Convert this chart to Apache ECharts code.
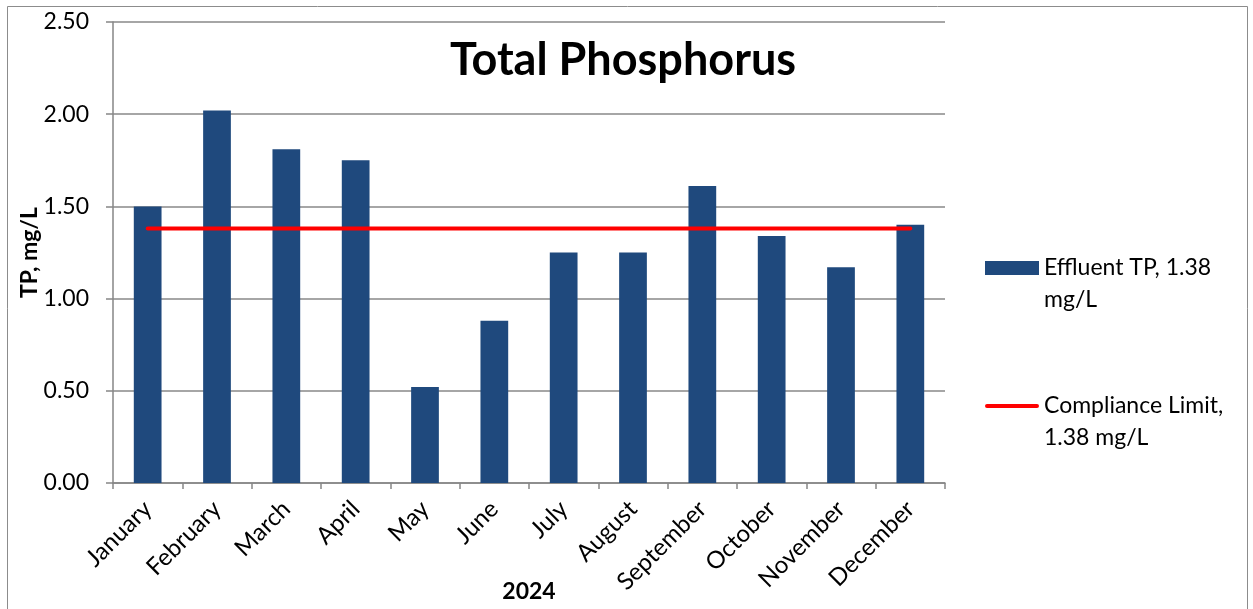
<!DOCTYPE html>
<html>
<head>
<meta charset="utf-8">
<script src="https://cdn.jsdelivr.net/npm/echarts@6/dist/echarts.min.js"></script>
<style>
  html, body { margin: 0; padding: 0; background: #fff; }
  #chart { width: 1253px; height: 609px; }
</style>
</head>
<body>
<div id="chart"></div>
<script>
// Total Phosphorus 2024 - monthly effluent vs compliance limit

const months = ['January', 'February', 'March', 'April', 'May', 'June',
    'July', 'August', 'September', 'October', 'November', 'December'];
const effluentTP = [1.50, 2.02, 1.81, 1.75, 0.52, 0.88, 1.25, 1.25, 1.61, 1.34, 1.17, 1.40];
const complianceLimit = [1.38, 1.38, 1.38, 1.38, 1.38, 1.38, 1.38, 1.38, 1.38, 1.38, 1.38, 1.38];
const yTicks = [0, 0.5, 1.0, 1.5, 2.0, 2.5];

const seriesNames = ['Effluent TP, 1.38\nmg/L', 'Compliance Limit,\n1.38 mg/L'];
const font = 'Lato, "Open Sans", sans-serif';

// legend icons: the mark sits on the first text line, tiny dots stretch the box to the item height
const barIcon = 'path://M0,0h0.01v0.01h-0.01Z M0,9H54V23H0Z M53.99,63.99h0.01v0.01h-0.01Z';
const lineIcon = 'path://M0,0h0.01v0.01h-0.01Z M2,14H52A2,2 0 0 1 52,18H2A2,2 0 0 1 2,14Z M53.99,63.99h0.01v0.01h-0.01Z';

let chart = echarts.init(document.getElementById('chart'));

let option = {
    backgroundColor: '#fff',
    animation: false,
    textStyle: { fontFamily: font, color: '#000' },
    graphic: [
        {
            type: 'rect',
            shape: { x: 7.5, y: 6.5, width: 1240, height: 640 },
            style: { fill: 'none', stroke: '#8c8c8c', lineWidth: 1 },
            silent: true
        }
    ],
    title: {
        text: 'Total Phosphorus',
        left: 618,
        top: 33,
        textAlign: 'center',
        textStyle: { fontFamily: font, fontSize: 45, fontWeight: 'bold', color: '#000' }
    },
    legend: {
        orient: 'vertical',
        left: 980,
        top: 247,
        itemGap: 74,
        itemWidth: 54,
        itemHeight: 64,
        textStyle: { fontFamily: font, fontSize: 23, color: '#000', lineHeight: 32 },
        data: [
            { name: seriesNames[0], icon: barIcon },
            { name: seriesNames[1], icon: lineIcon }
        ]
    },
    grid: { left: 113, right: 308, top: 22, bottom: 126, containLabel: false, outerBoundsMode: 'none' },
    xAxis: {
        type: 'category',
        data: months,
        name: '2024',
        nameLocation: 'middle',
        nameGap: 97,
        nameMoveOverlap: false,
        nameTextStyle: { fontFamily: font, fontSize: 23, fontWeight: 'bold', color: '#000' },
        axisLine: { lineStyle: { color: '#868686', width: 1.5 } },
        axisTick: { show: true, length: 6, lineStyle: { color: '#868686', width: 1.5 } },
        axisLabel: { rotate: 45, fontSize: 24, color: '#000', margin: 22, fontFamily: font }
    },
    yAxis: {
        type: 'value',
        min: yTicks[0],
        max: yTicks[yTicks.length - 1],
        interval: 0.5,
        name: 'TP, mg/L',
        nameLocation: 'middle',
        nameGap: 72,
        nameMoveOverlap: false,
        nameTextStyle: { fontFamily: font, fontSize: 23, fontWeight: 'bold', color: '#000' },
        axisLine: { show: true, lineStyle: { color: '#868686', width: 1.5 } },
        axisTick: { show: true, length: 7, lineStyle: { color: '#868686', width: 1.5 } },
        axisLabel: {
            fontSize: 23, color: '#000', margin: 24, fontFamily: font,
            formatter: v => v.toFixed(2)
        },
        splitLine: { show: true, lineStyle: { color: '#898989', width: 1.5 } }
    },
    series: [
        {
            name: seriesNames[0],
            type: 'bar',
            barWidth: '40%',
            itemStyle: { color: '#1F497D' },
            data: effluentTP
        },
        {
            name: seriesNames[1],
            type: 'line',
            symbol: 'none',
            lineStyle: { color: '#FF0000', width: 4, cap: 'round' },
            itemStyle: { color: '#FF0000' },
            data: complianceLimit
        }
    ]
};

chart.setOption(option);
</script>
</body>
</html>
